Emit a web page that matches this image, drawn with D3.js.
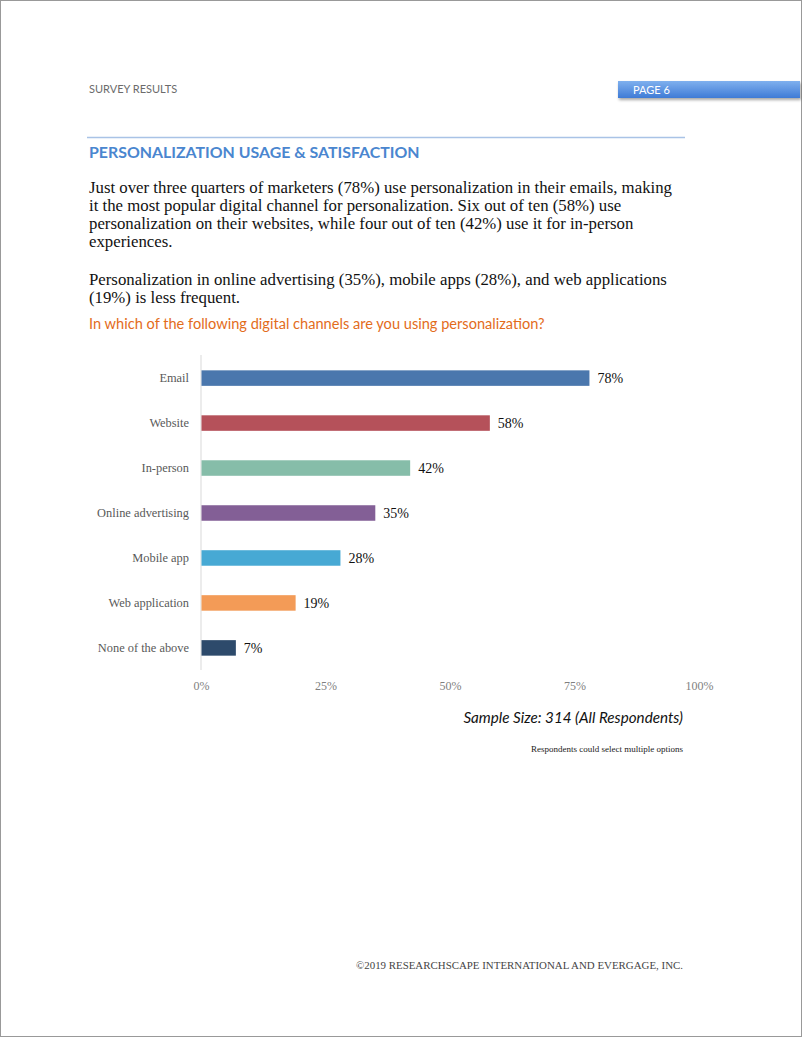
<!DOCTYPE html>
<html><head><meta charset="utf-8">
<script src="https://cdn.jsdelivr.net/npm/d3@7"></script>
<style>
html,body{margin:0;padding:0;background:#fff;}
svg{display:block;}
</style></head>
<body>
<svg id="chart" width="802" height="1037"></svg>
<script>
const categories = ["Email","Website","In-person","Online advertising","Mobile app","Web application","None of the above"];
const values = [78,58,42,35,28,19,7];
const barColors = ["#4a77ad","#b5515a","#86bda9","#835f96","#47a9d4","#f39b57","#2d4a6b"];
const tickValues = [0,25,50,75,100];

const para1 = ["Just over three quarters of marketers (78%) use personalization in their emails, making",
 "it the most popular digital channel for personalization. Six out of ten (58%) use",
 "personalization on their websites, while four out of ten (42%) use it for in-person",
 "experiences."];
const para2 = ["Personalization in online advertising (35%), mobile apps (28%), and web applications",
 "(19%) is less frequent."];

const svg = d3.select("#chart");
const sans = "Lato, 'Open Sans', sans-serif";
const serif = "'Liberation Serif', 'DejaVu Serif', serif";

// page frame
svg.append("rect").attr("x",0.5).attr("y",0.5).attr("width",801).attr("height",1036)
  .attr("fill","none").attr("stroke","#999").attr("stroke-width",1);

// header
svg.append("text").attr("x",89).attr("y",93).text("SURVEY RESULTS")
  .attr("font-family",sans).attr("font-size",11).attr("fill","#6b6b6b");

const defs = svg.append("defs");
const g = defs.append("linearGradient").attr("id","pg").attr("x1",0).attr("y1",0).attr("x2",0).attr("y2",1);
g.append("stop").attr("offset","0%").attr("stop-color","#7fb0ee");
g.append("stop").attr("offset","100%").attr("stop-color","#3f7bd6");
const f = defs.append("filter").attr("id","sh").attr("x","-10%").attr("y","-30%").attr("width","130%").attr("height","190%");
f.append("feDropShadow").attr("dx",1).attr("dy",2).attr("stdDeviation",1.5).attr("flood-color","#000").attr("flood-opacity",0.35);
svg.append("rect").attr("x",618).attr("y",81).attr("width",182).attr("height",17)
  .attr("fill","url(#pg)").attr("filter","url(#sh)");
svg.append("text").attr("x",633).attr("y",93.5).text("PAGE 6")
  .attr("font-family",sans).attr("font-size",11).attr("fill","#fff");

svg.append("line").attr("x1",87).attr("x2",685).attr("y1",137.5).attr("y2",137.5)
  .attr("stroke","#a9c3e6").attr("stroke-width",1.3);

svg.append("text").attr("x",89).attr("y",158).text("PERSONALIZATION USAGE & SATISFACTION")
  .attr("font-family",sans).attr("font-weight","bold").attr("font-size",15.9).attr("fill","#4a86cf");

// paragraphs
const bodyG = svg.append("g").attr("font-family",serif).attr("font-size",16.8).attr("fill","#111");
para1.forEach((t,i)=>bodyG.append("text").attr("x",89).attr("y",193+i*18).text(t));
para2.forEach((t,i)=>bodyG.append("text").attr("x",89).attr("y",285+i*18).text(t));

svg.append("text").attr("x",89).attr("y",329).text("In which of the following digital channels are you using personalization?")
  .attr("font-family",sans).attr("font-size",14.6).attr("fill","#e36c1b");

// chart
const x = d3.scaleLinear().domain([0,100]).range([201,699]);
const y = d3.scaleBand().domain(categories).range([355.5,670.5]).paddingInner(0.655).paddingOuter(0.33);

svg.append("line").attr("x1",201).attr("x2",201).attr("y1",355).attr("y2",670)
  .attr("stroke","#d9d9d9").attr("stroke-width",1);

svg.append("g").selectAll("rect").data(categories).join("rect")
  .attr("x",x(0)+0.5).attr("y",d=>y(d))
  .attr("width",(d,i)=>x(values[i])-x(0)-0.5).attr("height",y.bandwidth())
  .attr("fill",(d,i)=>barColors[i]);

svg.append("g").selectAll("text").data(categories).join("text")
  .attr("x",189).attr("y",d=>y(d)+y.bandwidth()/2+4).attr("text-anchor","end")
  .attr("font-family",serif).attr("font-size",12.4).attr("fill","#595959").text(d=>d);

svg.append("g").selectAll("text").data(categories).join("text")
  .attr("x",(d,i)=>x(values[i])+8).attr("y",d=>y(d)+y.bandwidth()/2+5)
  .attr("font-family",serif).attr("font-size",14).attr("fill","#111").text((d,i)=>values[i]+"%");

const xAxis = d3.axisBottom(x).tickValues(tickValues).tickFormat(d=>d+"%").tickSize(0).tickPadding(0);
const ax = svg.append("g").attr("transform","translate(0,690)").call(xAxis);
ax.select(".domain").remove();
ax.selectAll("text").attr("font-family",serif).attr("font-size",12).attr("fill","#7f7f7f").attr("dy",0);

svg.append("text").attr("x",683).attr("y",723).attr("text-anchor","end")
  .text("Sample Size: 314 (All Respondents)")
  .attr("font-family",sans).attr("font-style","italic").attr("font-size",15.2).attr("fill","#111");

svg.append("text").attr("x",683).attr("y",752).attr("text-anchor","end")
  .text("Respondents could select multiple options")
  .attr("font-family",serif).attr("font-size",9).attr("fill","#222");

svg.append("text").attr("x",683).attr("y",969).attr("text-anchor","end")
  .text("©2019 RESEARCHSCAPE INTERNATIONAL AND EVERGAGE, INC.")
  .attr("font-family",serif).attr("font-size",10.9).attr("fill","#444");
</script>
</body></html>
